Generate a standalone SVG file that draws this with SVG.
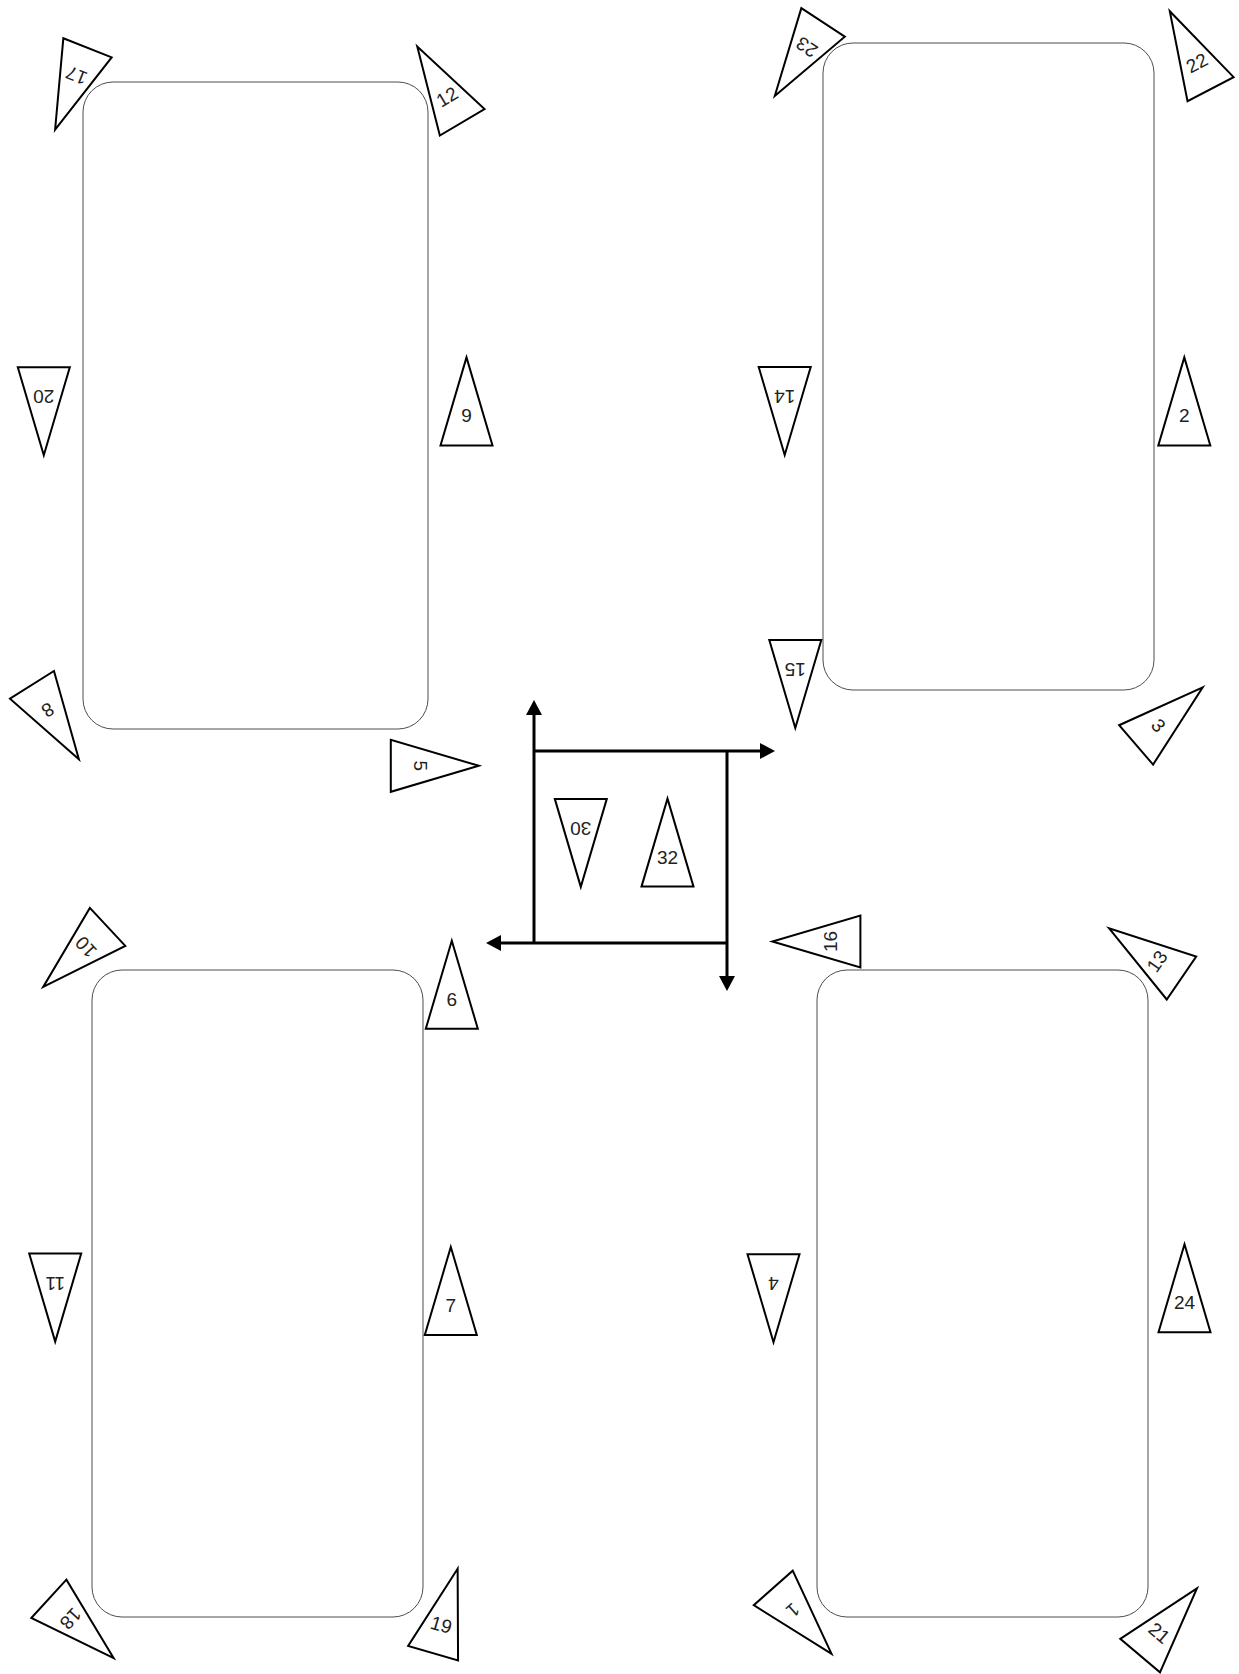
<svg xmlns="http://www.w3.org/2000/svg" width="1239" height="1674" viewBox="0 0 1239 1674">
<style>
.bg{fill:#ffffff}
.panel{fill:#ffffff;stroke:#4d4d4d;stroke-width:1}
.tri{fill:#ffffff;stroke:#000000;stroke-width:2;stroke-linejoin:miter}
.lbl{font-family:"Liberation Sans",Arial,sans-serif;font-size:19px;fill:#222222;text-anchor:middle}
.conn{fill:none;stroke:#000000;stroke-width:3}
</style>
<defs>
<marker id="arrow" viewBox="0 0 15 16" markerWidth="15" markerHeight="16" refX="2" refY="8" orient="auto" markerUnits="userSpaceOnUse">
<path d="M0,0 L15,8 L0,16 z" fill="#000000"/>
</marker>
<polygon id="tshape" points="0,-60 -26,28 26,28"/>
</defs>
<rect class="bg" x="0" y="0" width="1239" height="1674"/>

<g id="panel-tl"><rect class="panel" x="83" y="82" width="345" height="647" rx="30" ry="30"/></g>
<g id="panel-tr"><rect class="panel" x="823" y="43" width="331" height="647" rx="30" ry="30"/></g>
<g id="panel-bl"><rect class="panel" x="92" y="970" width="331" height="647" rx="30" ry="30"/></g>
<g id="panel-br"><rect class="panel" x="817" y="970" width="331" height="647" rx="30" ry="30"/></g>

<g id="connectors">
<path class="conn" d="M534,943 V713" marker-end="url(#arrow)"/>
<path class="conn" d="M534,751 H762" marker-end="url(#arrow)"/>
<path class="conn" d="M727,751 V978" marker-end="url(#arrow)"/>
<path class="conn" d="M727,943 H499" marker-end="url(#arrow)"/>
</g>

<g id="t17" transform="translate(77.2,73.9) rotate(201.6)"><use href="#tshape" class="tri"/><text class="lbl" x="0" y="5">17</text></g>
<g id="t12" transform="translate(447.9,98.2) rotate(-30.7)"><use href="#tshape" class="tri"/><text class="lbl" x="0" y="5">12</text></g>
<g id="t20" transform="translate(43.8,395.2) rotate(180)"><use href="#tshape" class="tri"/><text class="lbl" x="0" y="5">20</text></g>
<g id="t9" transform="translate(466.5,417.4) rotate(0)"><use href="#tshape" class="tri"/><text class="lbl" x="0" y="5">9</text></g>
<g id="t23" transform="translate(807.7,45.8) rotate(213.3)"><use href="#tshape" class="tri"/><text class="lbl" x="0" y="5">23</text></g>
<g id="t22" transform="translate(1197.6,64.4) rotate(-27.6)"><use href="#tshape" class="tri"/><text class="lbl" x="0" y="5">22</text></g>
<g id="t14" transform="translate(784.7,395) rotate(180)"><use href="#tshape" class="tri"/><text class="lbl" x="0" y="5">14</text></g>
<g id="t2" transform="translate(1184.3,417.4) rotate(0)"><use href="#tshape" class="tri"/><text class="lbl" x="0" y="5">2</text></g>
<g id="t8" transform="translate(46.9,708.5) rotate(147.8)"><use href="#tshape" class="tri"/><text class="lbl" x="0" y="5">8</text></g>
<g id="t5" transform="translate(418.8,765.8) rotate(90)"><use href="#tshape" class="tri"/><text class="lbl" x="0" y="5">5</text></g>
<g id="t10" transform="translate(87.1,946) rotate(227)"><use href="#tshape" class="tri"/><text class="lbl" x="0" y="5">10</text></g>
<g id="t6" transform="translate(451.8,1000.7) rotate(0)"><use href="#tshape" class="tri"/><text class="lbl" x="0" y="5">6</text></g>
<g id="t15" transform="translate(795.3,668) rotate(180)"><use href="#tshape" class="tri"/><text class="lbl" x="0" y="5">15</text></g>
<g id="t3" transform="translate(1157.3,726.6) rotate(49.2)"><use href="#tshape" class="tri"/><text class="lbl" x="0" y="5">3</text></g>
<g id="t16" transform="translate(832.4,941.5) rotate(-90)"><use href="#tshape" class="tri"/><text class="lbl" x="0" y="5">16</text></g>
<g id="t13" transform="translate(1158.4,962.2) rotate(-55.5)"><use href="#tshape" class="tri"/><text class="lbl" x="0" y="5">13</text></g>
<g id="t30" transform="translate(580.8,826.9) rotate(180)"><use href="#tshape" class="tri"/><text class="lbl" x="0" y="5">30</text></g>
<g id="t32" transform="translate(667.5,858.6) rotate(0)"><use href="#tshape" class="tri"/><text class="lbl" x="0" y="5">32</text></g>
<g id="t11" transform="translate(55.2,1281.6) rotate(180)"><use href="#tshape" class="tri"/><text class="lbl" x="0" y="5">11</text></g>
<g id="t7" transform="translate(450.8,1307) rotate(0)"><use href="#tshape" class="tri"/><text class="lbl" x="0" y="5">7</text></g>
<g id="t18" transform="translate(69.5,1617.7) rotate(132.5)"><use href="#tshape" class="tri"/><text class="lbl" x="0" y="5">18</text></g>
<g id="t19" transform="translate(440.9,1626.3) rotate(16.2)"><use href="#tshape" class="tri"/><text class="lbl" x="0" y="5">19</text></g>
<g id="t4" transform="translate(773.5,1282.2) rotate(180)"><use href="#tshape" class="tri"/><text class="lbl" x="0" y="5">4</text></g>
<g id="t24" transform="translate(1184.5,1304.2) rotate(0)"><use href="#tshape" class="tri"/><text class="lbl" x="0" y="5">24</text></g>
<g id="t1" transform="translate(791.8,1608.9) rotate(138.5)"><use href="#tshape" class="tri"/><text class="lbl" x="0" y="5">1</text></g>
<g id="t21" transform="translate(1158.2,1634.2) rotate(40.2)"><use href="#tshape" class="tri"/><text class="lbl" x="0" y="5">21</text></g>
</svg>
